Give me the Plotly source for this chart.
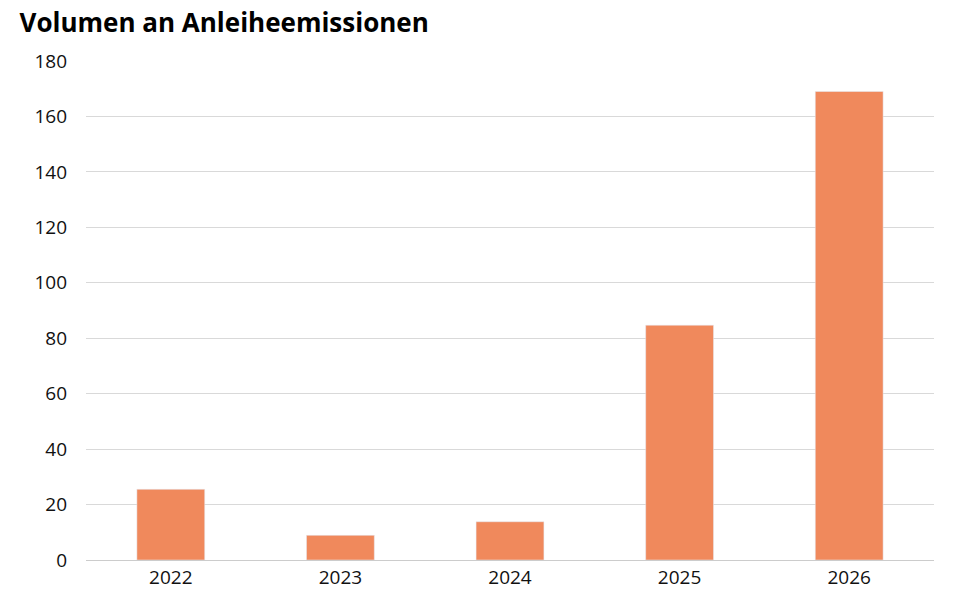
import plotly.graph_objects as go

years = ["2022", "2023", "2024", "2025", "2026"]
volume = [25.5, 8.9, 13.8, 84.7, 169.0]
y_ticks = [0, 20, 40, 60, 80, 100, 120, 140, 160, 180]

fig = go.Figure(
    go.Bar(x=years, y=volume, marker_color="#f0895c", width=0.4)
)

fig.update_layout(
    width=960,
    height=615,
    plot_bgcolor="white",
    paper_bgcolor="white",
    margin=dict(l=78, r=34, t=53, b=63),
    font=dict(family="Open Sans, sans-serif", color="#111111", size=19),
    showlegend=False,
    title=dict(
        text="<b>Volumen an Anleiheemissionen</b>",
        x=0.012, xanchor="left", y=0.99, yanchor="top",
        font=dict(size=26, color="#000000"),
    ),
    annotations=[
        dict(
            text="Quelle SGKB, Bloomberg per 31.07.2026, in Mrd. US-Dollar",
            xref="paper", yref="paper", x=-0.075, y=-0.11,
            xanchor="left", yanchor="top", showarrow=False,
            font=dict(size=12, color="#222222"),
        )
    ],
)
fig.update_xaxes(showline=True, linecolor="#cccccc", linewidth=1, ticks="")
fig.update_yaxes(
    range=[0, 180], tickvals=y_ticks, gridcolor="#d9d9d9",
    zeroline=False, ticks="", ticklabelstandoff=18,
)

fig.write_html("out.html")
